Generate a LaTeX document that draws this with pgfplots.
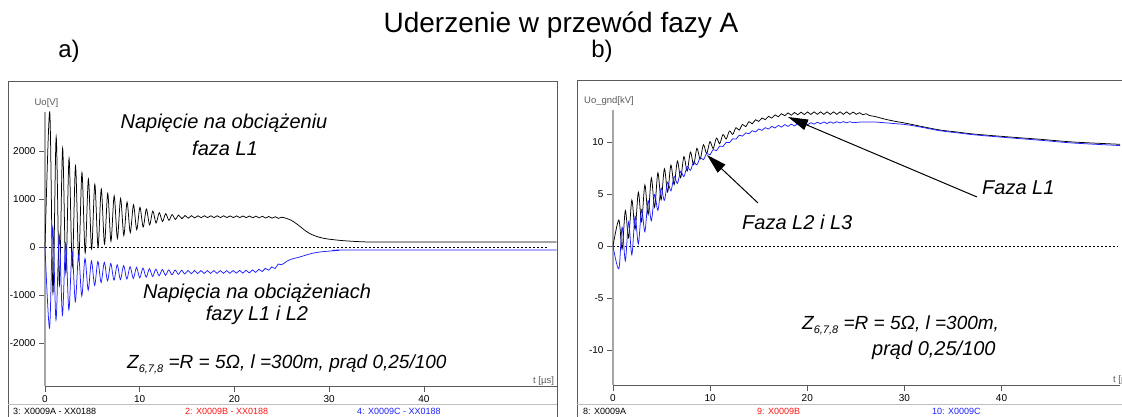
\documentclass[border=0pt]{standalone}
\usepackage{pgfplots}
\pgfplotsset{compat=1.18}
\usepackage{fontspec}
\setmainfont{Liberation Sans}
\usetikzlibrary{arrows.meta}
\definecolor{cblue}{RGB}{30,30,255}
\definecolor{cred}{RGB}{255,20,20}
\definecolor{frm}{RGB}{90,90,90}
\newcommand{\ann}{\fontsize{20}{24}\selectfont\itshape}
\newcommand{\zann}{\fontsize{19}{23}\selectfont\itshape}
\newcommand{\zsub}{\raisebox{-4pt}{\fontsize{11}{12}\selectfont 6,7,8}}
\pgfplotsset{osc/.style={scale only axis, axis x line=bottom, axis y line=left,
  x axis line style={-, draw=frm, line width=0.6pt},
  y axis line style={-, draw=gray!70, line width=1.4pt},
  tick align=outside, major tick length=6pt,
  tick style={draw=frm, line width=0.6pt},
  xtick={0,10,20,30,40}, xticklabels={0,10,20,30,40},
  ticklabel style={font=\fontsize{10}{12}\selectfont},
  clip=false, every axis plot/.append style={line width=0.75pt}}}
\begin{document}
\begin{tikzpicture}[x=1pt,y=1pt]
% left axis
\begin{axis}[osc, at={(45pt,31pt)}, anchor=south west, width=512pt, height=274pt,
  xmin=0, xmax=54.04, ymin=-2896, ymax=2812,
  ytick={-2000,-1000,0,1000,2000}, yticklabels={-2000,-1000,0,1000,2000}]
\addplot[black, dashed, line width=0.5pt, dash pattern=on 2pt off 2pt] coordinates {(0,0) (53.1,0)};
\addplot[black, smooth] coordinates {(0,0) (0.50,2810) (0.84,-960) (1.18,2290) (1.52,-790) (1.86,2056) (2.20,-540) (2.54,1847) (2.88,-410) (3.22,1688) (3.56,-270) (3.90,1548) (4.24,-125) (4.58,1417) (4.92,-40) (5.26,1306) (5.60,0) (5.94,1208) (6.28,60) (6.62,1118) (6.96,120) (7.30,1064) (7.64,180) (7.98,1010) (8.32,240) (8.66,935) (9.00,300) (9.34,880) (9.68,360) (10.02,825) (10.36,415) (10.70,790) (11.04,460) (11.38,750) (11.72,500) (12.06,715) (12.40,530) (12.74,694) (13.08,555) (13.42,676) (13.76,575) (14.10,664) (14.44,590) (14.78,656) (15.12,600) (15.46,652) (15.80,606) (16.14,650) (16.48,610) (16.82,650) (17.16,612) (17.50,650) (17.84,612) (18.18,650) (18.52,612) (18.86,650) (19.20,612) (19.54,648) (19.88,612) (20.22,648) (20.56,612) (20.90,646) (21.24,610) (21.58,645) (21.92,608) (22.26,643) (22.60,606) (22.94,640) (23.28,603) (23.62,636) (23.96,600) (24.30,630) (24.64,596) (24.98,620) (25.5,595) (26.0,555) (26.5,490) (27.0,415) (27.5,335) (28.0,275) (28.5,232) (29.0,200) (29.5,178) (30.0,162) (31,140) (32,124) (33,113) (34.3,105) (40,104) (54,104)};
\addplot[cblue, smooth] coordinates {(0,0) (0.48,-1690) (0.82,420) (1.16,-1520) (1.50,250) (1.84,-1420) (2.18,80) (2.52,-1310) (2.86,-90) (3.20,-1140) (3.54,-170) (3.88,-1020) (4.22,-240) (4.56,-900) (4.90,-290) (5.24,-800) (5.58,-300) (5.92,-740) (6.26,-320) (6.60,-705) (6.94,-345) (7.28,-690) (7.62,-370) (7.96,-680) (8.30,-390) (8.64,-668) (8.98,-410) (9.32,-655) (9.66,-425) (10.00,-642) (10.34,-440) (10.68,-628) (11.02,-452) (11.36,-614) (11.70,-462) (12.04,-600) (12.38,-470) (12.72,-588) (13.06,-476) (13.40,-578) (13.74,-481) (14.08,-570) (14.42,-485) (14.76,-563) (15.10,-488) (15.44,-558) (15.78,-490) (16.12,-555) (16.46,-491) (16.80,-552) (17.14,-492) (17.48,-550) (17.82,-492) (18.16,-550) (18.50,-492) (18.84,-548) (19.18,-492) (19.52,-548) (19.86,-490) (20.20,-546) (20.54,-488) (20.88,-544) (21.22,-485) (21.56,-540) (21.90,-478) (22.24,-530) (22.58,-465) (22.92,-512) (23.26,-445) (23.60,-485) (23.94,-415) (24.28,-450) (24.62,-355) (24.96,-372) (25.5,-300) (26.0,-255) (26.9,-208) (27.6,-165) (28.3,-128) (29.2,-100) (30.1,-84) (31,-72) (32.2,-64) (54,-62)};
\end{axis}
% right axis
\begin{axis}[osc, at={(613pt,32pt)}, anchor=south west, width=507pt, height=275pt,
  xmin=0, xmax=52.2, ymin=-13.37, ymax=13.08,
  ytick={-10,-5,0,5,10}, yticklabels={-10,-5,0,5,10}]
\addplot[black, dashed, line width=0.5pt, dash pattern=on 2pt off 2pt] coordinates {(0,0) (52,0)};
\addplot[black, smooth] coordinates {(0,0) (0.600,2.50) (0.935,-0.30) (1.270,3.41) (1.605,0.80) (1.940,4.42) (2.275,1.60) (2.610,5.17) (2.945,2.34) (3.280,5.88) (3.615,3.02) (3.950,6.55) (4.285,3.72) (4.620,7.04) (4.955,4.45) (5.290,7.44) (5.625,5.19) (5.960,7.78) (6.295,5.90) (6.630,8.17) (6.965,6.56) (7.300,8.60) (7.635,7.21) (7.970,9.03) (8.305,7.81) (8.640,9.40) (8.975,8.38) (9.310,9.74) (9.645,8.89) (9.980,10.04) (10.315,9.37) (10.650,10.38) (10.985,9.84) (11.320,10.72) (11.655,10.29) (11.990,11.06) (12.325,10.73) (12.660,11.38) (12.995,11.15) (13.330,11.69) (13.665,11.48) (14.000,11.96) (14.335,11.75) (14.670,12.14) (15.005,11.98) (15.340,12.31) (15.675,12.15) (16.010,12.47) (16.345,12.30) (16.680,12.61) (17.015,12.43) (17.350,12.72) (17.685,12.53) (18.020,12.80) (18.355,12.58) (18.690,12.84) (19.025,12.62) (19.360,12.87) (19.695,12.64) (20.030,12.89) (20.365,12.65) (20.700,12.90) (21.035,12.66) (21.370,12.90) (21.705,12.66) (22.040,12.90) (22.375,12.66) (22.710,12.90) (23.045,12.66) (23.380,12.90) (23.715,12.66) (24.050,12.90) (24.385,12.66) (24.720,12.88) (25.055,12.66) (25.390,12.82) (25.725,12.62) (26.060,12.72) (26.395,12.55) (27,12.45) (28,12.2) (29,12.0) (30.3,11.78) (32,11.45) (33.7,11.15) (35.5,10.95) (37.1,10.77) (40.6,10.5) (44,10.26) (47.4,10.0) (52.2,9.78)};
\addplot[cblue, smooth] coordinates {(0,0) (0.600,-2.20) (0.935,1.80) (1.270,-1.42) (1.605,2.31) (1.940,-0.85) (2.275,2.86) (2.610,0.20) (2.945,3.50) (3.280,1.37) (3.615,4.36) (3.950,2.43) (4.285,4.95) (4.620,3.43) (4.955,5.56) (5.290,4.39) (5.625,6.13) (5.960,5.30) (6.295,6.68) (6.630,6.01) (6.965,7.18) (7.300,6.67) (7.635,7.65) (7.970,7.28) (8.305,8.09) (8.640,7.80) (8.975,8.50) (9.310,8.30) (9.645,8.90) (9.980,8.78) (10.315,9.27) (10.650,9.17) (10.985,9.61) (11.320,9.57) (11.655,9.97) (11.990,9.94) (12.325,10.31) (12.660,10.28) (12.995,10.65) (13.330,10.57) (13.665,10.88) (14.000,10.80) (14.335,11.08) (14.670,10.97) (15.005,11.25) (15.340,11.12) (15.675,11.38) (16.010,11.25) (16.345,11.50) (16.680,11.35) (17.015,11.60) (17.350,11.43) (17.685,11.67) (18.020,11.50) (18.355,11.72) (18.690,11.55) (19.025,11.78) (19.360,11.61) (19.695,11.84) (20.030,11.66) (20.365,11.86) (20.700,11.72) (21.035,11.90) (21.370,11.76) (21.705,11.93) (22.040,11.78) (22.375,11.94) (22.710,11.81) (23.045,11.95) (23.380,11.84) (23.715,11.96) (24.050,11.85) (24.385,11.95) (24.720,11.86) (25.5,11.92) (26.8,11.93) (28,11.85) (29,11.77) (30.3,11.66) (32,11.38) (33.7,11.08) (35.5,10.88) (37.1,10.7) (40.6,10.42) (44,10.17) (47.4,9.9) (52.2,9.66)};
\end{axis}
% frames
\draw[frm, line width=0.8pt] (8,-2) -- (8,336) -- (557,336) -- (557,-2);
\draw[gray!50, line width=0.6pt] (8,13) -- (557,13);
\draw[frm, line width=0.8pt] (577,-2) -- (577,337) -- (1125,337);
\draw[gray!50, line width=0.6pt] (577,13) -- (1125,13);
% titles
\node[font=\fontsize{28}{32}\selectfont] at (561,392) {Uderzenie w przewód fazy A};
\node[font=\fontsize{24}{28}\selectfont] at (69,366) {a)};
\node[font=\fontsize{24}{28}\selectfont] at (602,366) {b)};
% axis labels
\node[font=\fontsize{9.5}{11}\selectfont, text=frm] at (46.5,314) {Uo[V]};
\node[font=\fontsize{9.5}{11}\selectfont, text=frm] at (609,316) {Uo\_gnd[kV]};
\node[font=\fontsize{9.5}{11}\selectfont, anchor=west, inner sep=0, text=frm] at (533,36) {t [µs]};
\node[font=\fontsize{9.5}{11}\selectfont, anchor=west, inner sep=0, text=frm] at (1113,37) {t [µs]};
% annotations
\node[font=\ann] at (224,294) {Napięcie na obciążeniu};
\node[font=\ann] at (225,269) {faza L1};
\node[font=\ann] at (257,124) {Napięcia na obciążeniach};
\node[font=\ann] at (257,102) {fazy L1 i L2};
\node[font=\zann, anchor=west, inner sep=0] at (127,53) {Z\zsub\ =R = 5Ω, l =300m, prąd 0,25/100};
\node[font=\zann, anchor=west, inner sep=0] at (802,92) {Z\zsub\ =R = 5Ω, l =300m,};
\node[font=\ann, anchor=west, inner sep=0] at (872,67) {prąd 0,25/100};
\node[font=\ann, anchor=west, inner sep=0] at (742,195) {Faza L2 i L3};
\node[font=\ann, anchor=west, inner sep=0] at (982,229) {Faza L1};
\draw[line width=1pt, -{Triangle[length=20pt,width=11pt]}] (758,214) -- (707,262);
\draw[line width=1pt, -{Triangle[length=20pt,width=11pt]}] (977,220) -- (788,300);
% footer
\begin{scope}[every node/.style={font=\fontsize{9}{10}\selectfont, anchor=west, inner sep=0}]
\node at (13,5.5) {3: X0009A - XX0188};
\node[text=cred] at (185,5.5) {2: X0009B - XX0188};
\node[text=cblue] at (357,5.5) {4: X0009C - XX0188};
\node at (583,5.5) {8: X0009A};
\node[text=cred] at (757,5.5) {9: X0009B};
\node[text=cblue] at (932,5.5) {10: X0009C};
\end{scope}
\pgfresetboundingbox
\path[use as bounding box] (0,0) rectangle (1122,417);
\end{tikzpicture}
\end{document}
